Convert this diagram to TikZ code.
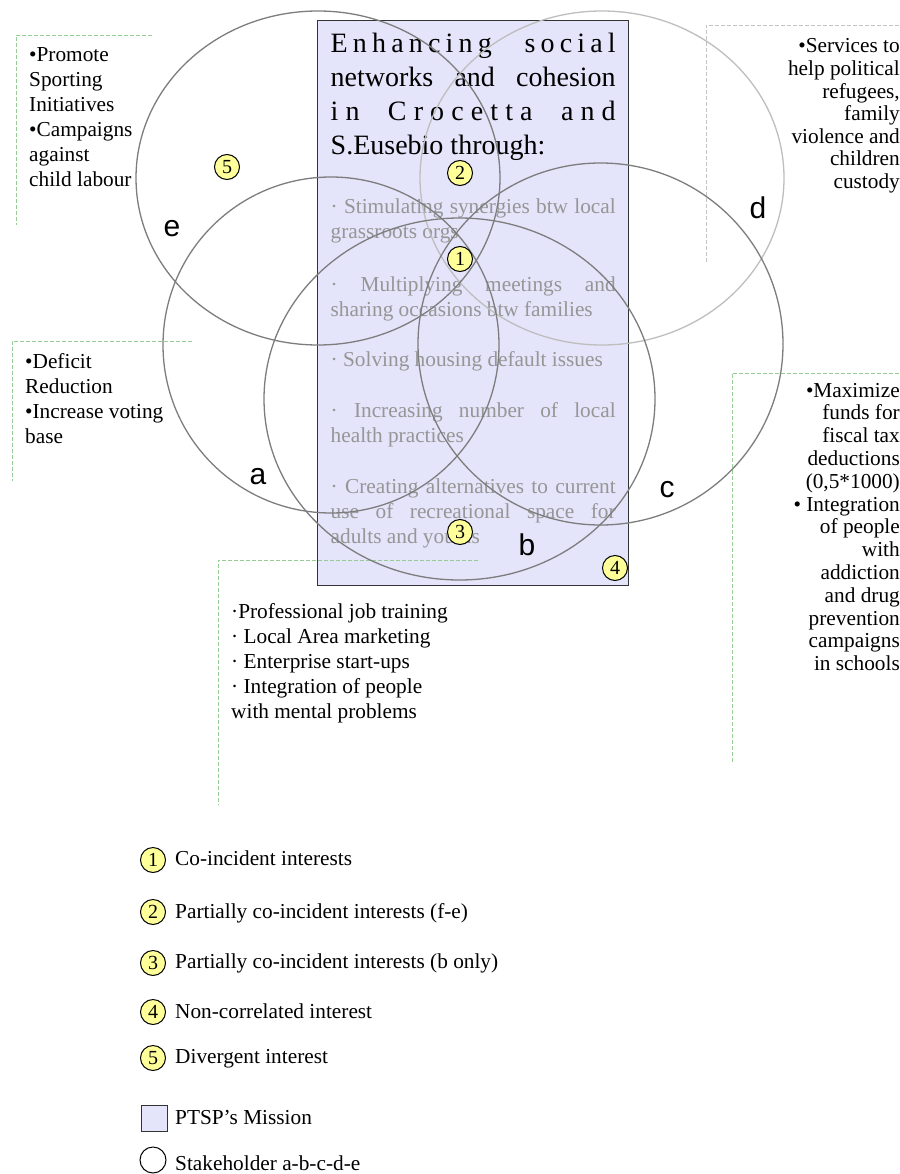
\documentclass[tikz,border=0pt]{standalone}
\usepackage{fontspec}
\setmainfont{Liberation Serif}
\newfontfamily\stakefont{Liberation Sans}
\usetikzlibrary{shapes.geometric}

\definecolor{missionfill}{RGB}{228,228,250}
\definecolor{badgeyellow}{RGB}{255,255,153}
\definecolor{ringgray}{RGB}{125,125,125}
\definecolor{ringlight}{RGB}{190,190,190}
\definecolor{guidegreen}{RGB}{150,205,150}
\definecolor{guidegray}{RGB}{195,195,195}
\definecolor{itemgray}{RGB}{150,150,150}

% one justified line of the mission box, and one line at natural width
\newcommand{\jline}[1]{\hbox to 285pt{#1}}
\newcommand{\nline}[1]{\hbox{#1}}

\tikzset{
  missionbox/.style={draw=black!80, line width=1.2pt, fill=missionfill,
    anchor=north west, inner sep=0pt, minimum width=311pt, minimum height=565pt},
  ring/.style={ellipse, draw=ringgray, line width=1.3pt, inner sep=0pt},
  ringlite/.style={ellipse, draw=ringlight, line width=1.3pt, inner sep=0pt},
  badge/.style={circle, draw=black, line width=1pt, fill=badgeyellow,
    minimum size=25pt, inner sep=0pt, font=\fontsize{20}{20}\selectfont},
  stake/.style={inner sep=0pt, font=\stakefont\fontsize{30}{30}\selectfont},
  titletext/.style={anchor=base west, inner sep=0pt, font=\fontsize{28}{33.7}\selectfont},
  itemtext/.style={anchor=base west, inner sep=0pt, text=itemgray,
    font=\fontsize{21.3}{25}\selectfont},
  notel/.style={anchor=base west, inner sep=0pt, font=\fontsize{21.3}{25}\selectfont},
  noter/.style={anchor=base east, inner sep=0pt, font=\fontsize{21.3}{22.6}\selectfont},
  legendtext/.style={anchor=base west, inner sep=0pt, font=\fontsize{21.3}{25}\selectfont},
  guide/.style={draw=guidegreen, line width=0.9pt, dash pattern=on 4pt off 2pt},
  guidegr/.style={draw=guidegray, line width=0.9pt, dash pattern=on 4pt off 2pt},
}

\begin{document}
\begin{tikzpicture}[x=1pt,y=-1pt]
\path[use as bounding box, fill=white] (0,0) rectangle (899,1174);

% mission box
\node[missionbox] (mission) at (317,20) {};

% dashed frames of the stakeholder notes
\draw[guide] (152,35) -- (16,35) -- (16,225);
\draw[guidegr] (899,25) -- (706,25) -- (706,263);
\draw[guide] (192,341) -- (12,341) -- (12,481);
\draw[guide] (899,373) -- (732,373) -- (732,764);
\draw[guide] (478,560) -- (218,560) -- (218,805);

% mission text
\node[titletext] (title) at (330.5,53) {\parbox[t]{285pt}{%
  \jline{E\hfil n\hfil h\hfil a\hfil n\hfil c\hfil i\hfil n\hfil g\hskip 7pt plus 5fil s\hfil o\hfil c\hfil i\hfil a\hfil l}
  \jline{networks and cohesion}
  \jline{i\hfil n\hskip 7pt plus 3fil C\hfil r\hfil o\hfil c\hfil e\hfil t\hfil t\hfil a\hskip 7pt plus 3fil a\hfil n\hfil d}
  \nline{S.Eusebio through:}}};

\node[itemtext] (it1) at (330.5,214) {\parbox[t]{285pt}{%
  \jline{· Stimulating synergies btw local}
  \nline{grassroots orgs}}};
\node[itemtext] (it2) at (330.5,291) {\parbox[t]{285pt}{%
  \jline{· Multiplying meetings and}
  \nline{sharing occasions btw families}}};
\node[itemtext] (it3) at (330.5,366) {\parbox[t]{285pt}{%
  \nline{· Solving housing default issues}}};
\node[itemtext] (it4) at (330.5,417) {\parbox[t]{285pt}{%
  \jline{· Increasing number of local}
  \nline{health practices}}};
\node[itemtext] (it5) at (330.5,493) {\parbox[t]{285pt}{%
  \jline{· Creating alternatives to current}
  \jline{use of recreational space for}
  \nline{adults and youths}}};

% stakeholders
\node[ringlite, minimum width=364pt, minimum height=334pt] (ringd) at (602,178) {};
\node[ring, minimum width=364pt, minimum height=334pt] (ringe) at (318,178) {};
\node[ring, minimum width=336pt, minimum height=336pt] (ringa) at (331,345) {};
\node[ring, minimum width=365pt, minimum height=362pt] (ringc) at (600.5,344) {};
\node[ring, minimum width=391pt, minimum height=362pt] (ringb) at (459.5,399) {};

\node[stake] (labe) at (172,229) {e};
\node[stake] (labd) at (758,208) {d};
\node[stake] (laba) at (258,477) {a};
\node[stake] (labc) at (667,490) {c};
\node[stake] (labb) at (527,545) {b};

% interest markers
\node[badge] (m5) at (227,167) {5};
\node[badge] (m2) at (460,173) {2};
\node[badge] (m1) at (460,259) {1};
\node[badge] (m3) at (460,532) {3};
\node[badge] (m4) at (615,568) {4};

% stakeholder notes
\node[notel] (notee) at (29,62) {\parbox[t]{200pt}{\raggedright
  •Promote\\Sporting\\Initiatives\\•Campaigns\\against\\child labour}};
\node[noter] (noted) at (900,53) {\parbox[t]{200pt}{\raggedleft
  •Services to\\help political\\refugees,\\family\\violence and\\children\\custody}};
\node[notel] (notea) at (25,368) {\parbox[t]{200pt}{\raggedright
  •Deficit\\Reduction\\•Increase voting\\base}};
\node[noter, font=\fontsize{21.3}{22.8}\selectfont] (notec) at (900,397) {\parbox[t]{200pt}{\raggedleft
  •Maximize\\funds for\\fiscal tax\\deductions\\(0,5*1000)\\• Integration\\of people\\with\\addiction\\and drug\\prevention\\campaigns\\in schools}};
\node[notel] (noteb) at (231,618) {\parbox[t]{260pt}{\raggedright
  ·Professional job training\\· Local Area marketing\\· Enterprise start-ups\\· Integration of people\\with mental problems}};

% legend
\node[badge] (k1) at (153,860) {1};
\node[legendtext] (k1t) at (175,865) {Co-incident interests};
\node[badge] (k2) at (153,912) {2};
\node[legendtext] (k2t) at (175,918) {Partially co-incident interests (f-e)};
\node[badge] (k3) at (153,963) {3};
\node[legendtext] (k3t) at (175,968) {Partially co-incident interests (b only)};
\node[badge] (k4) at (153,1012) {4};
\node[legendtext] (k4t) at (175,1018) {Non-correlated interest};
\node[badge] (k5) at (153,1058) {5};
\node[legendtext] (k5t) at (175,1063) {Divergent interest};
\node[draw=black!80, line width=1pt, fill=missionfill, minimum size=26pt, inner sep=0pt] (kmission) at (154,1118) {};
\node[legendtext] (kmissiont) at (175,1124) {PTSP's Mission};
\node[circle, draw=black, line width=1pt, minimum size=26pt, inner sep=0pt] (kring) at (153,1160) {};
\node[legendtext] (kringt) at (175,1170) {Stakeholder a-b-c-d-e};
\end{tikzpicture}
\end{document}
